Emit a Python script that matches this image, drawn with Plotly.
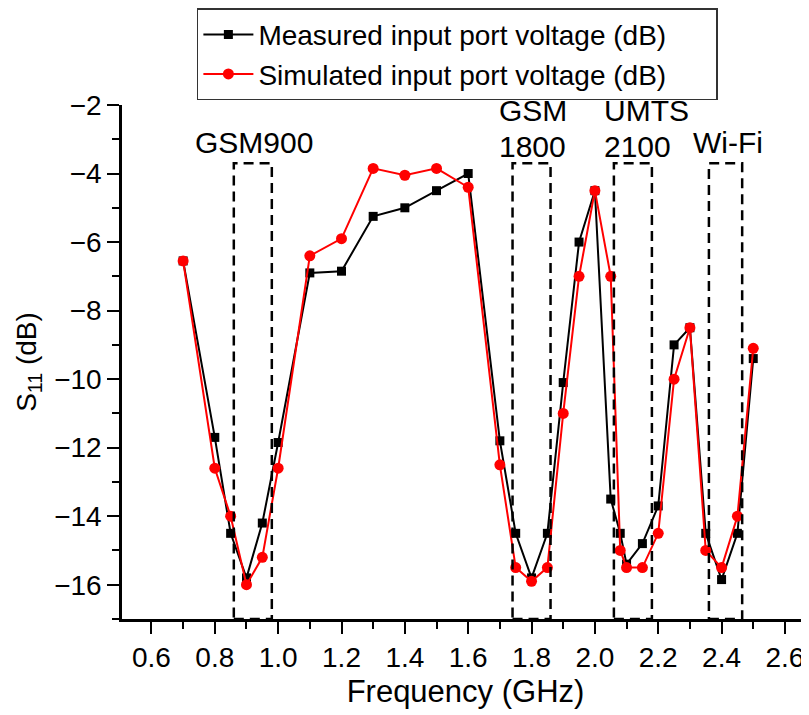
import plotly.graph_objects as go

# ---- data ----
freq_ghz = [0.7, 0.8, 0.85, 0.9, 0.95, 1.0, 1.1, 1.2, 1.3, 1.4, 1.5, 1.6,
            1.7, 1.75, 1.8, 1.85, 1.9, 1.95, 2.0, 2.05, 2.08, 2.1, 2.15, 2.2,
            2.25, 2.3, 2.35, 2.4, 2.45, 2.5]
measured_db = [-6.55, -11.7, -14.5, -15.8, -14.2, -11.85, -6.9, -6.85, -5.25, -5.0, -4.5, -4.0,
               -11.8, -14.5, -15.8, -14.5, -10.1, -6.0, -4.5, -13.5, -14.5, -15.4, -14.8, -13.7,
               -9.0, -8.5, -14.5, -15.85, -14.5, -9.4]
simulated_db = [-6.55, -12.6, -14.0, -16.0, -15.2, -12.6, -6.4, -5.9, -3.85, -4.05, -3.85, -4.4,
                -12.5, -15.5, -15.9, -15.5, -11.0, -7.0, -4.5, -7.0, -15.0, -15.5, -15.5, -14.5,
                -10.0, -8.5, -15.0, -15.5, -14.0, -9.1]

series_names = ["Measured input port voltage (dB)", "Simulated input port voltage (dB)"]

# frequency bands (dashed boxes)
band_lo = [0.86, 1.74, 2.06, 2.36]
band_hi = [0.98, 1.86, 2.18, 2.465]
band_top = -3.7
band_bottom = -17

# band labels
label_text = ["GSM900", "GSM", "1800", "UMTS", "2100", "Wi-Fi"]
label_x = [0.923, 1.69, 1.69, 2.021, 2.021, 2.42]
label_y = [-3.08, -2.15, -3.22, -2.15, -3.22, -3.08]
label_anchor = ["center", "left", "left", "left", "left", "center"]

x_range = [0.507, 2.676]
y_range = [-17, -2]

FONT = "Liberation Sans, Arial, sans-serif"

fig = go.Figure()
fig.add_trace(go.Scatter(
    x=freq_ghz, y=measured_db, mode="lines+markers", name=series_names[0],
    line=dict(color="black", width=2),
    marker=dict(symbol="square", size=9, color="black"),
))
fig.add_trace(go.Scatter(
    x=freq_ghz, y=simulated_db, mode="lines+markers", name=series_names[1],
    line=dict(color="#ff0000", width=2),
    marker=dict(symbol="circle", size=11, color="#ff0000"),
))

for lo, hi in zip(band_lo, band_hi):
    fig.add_shape(type="rect", xref="x", yref="y", x0=lo, x1=hi,
                  y0=band_bottom, y1=band_top,
                  line=dict(color="black", width=2.5, dash="10px,6px"),
                  fillcolor="rgba(0,0,0,0)", layer="above")

for t, x, y, a in zip(label_text, label_x, label_y, label_anchor):
    fig.add_annotation(x=x, y=y, xref="x", yref="y", text=t, showarrow=False,
                       xanchor=a, yanchor="middle",
                       font=dict(family=FONT, size=30, color="black"))

fig.update_layout(
    width=801, height=707,
    margin=dict(l=114, r=0, t=95, b=96),
    paper_bgcolor="white", plot_bgcolor="white",
    font=dict(family=FONT, color="black", size=28),
    showlegend=True,
    legend=dict(
        orientation="h", entrywidth=453, entrywidthmode="pixels",
        x=0.109, y=1.188, xanchor="left", yanchor="top",
        bgcolor="white", bordercolor="#333", borderwidth=1.5,
        font=dict(family=FONT, size=28, color="black"),
        itemwidth=50, tracegroupgap=0,
    ),
)

fig.update_xaxes(
    range=x_range, showgrid=False, zeroline=False,
    showline=True, linecolor="black", linewidth=2.5, mirror=False,
    ticks="outside", ticklen=12, tickwidth=2, tickcolor="black",
    tick0=0.6, dtick=0.2, tickformat=".1f",
    minor=dict(ticks="outside", ticklen=7, tickwidth=2, tickcolor="black", dtick=0.1, tick0=0.5, showgrid=False),
    tickfont=dict(family=FONT, size=28, color="black"),
    title=dict(text="Frequency (GHz)", font=dict(family=FONT, size=31, color="black"), standoff=8),
    automargin=False,
)
fig.update_yaxes(
    range=y_range, showgrid=False, zeroline=False,
    showline=True, linecolor="black", linewidth=2.5, mirror=False,
    ticks="outside", ticklen=12, tickwidth=2, tickcolor="black",
    tick0=-16, dtick=2,
    minor=dict(ticks="outside", ticklen=7, tickwidth=2, tickcolor="black", dtick=1, showgrid=False),
    tickfont=dict(family=FONT, size=28, color="black"),
    title=dict(text="S<sub>11</sub> (dB)", font=dict(family=FONT, size=28, color="black"), standoff=10),
    automargin=False,
)

fig.write_html("out.html")
